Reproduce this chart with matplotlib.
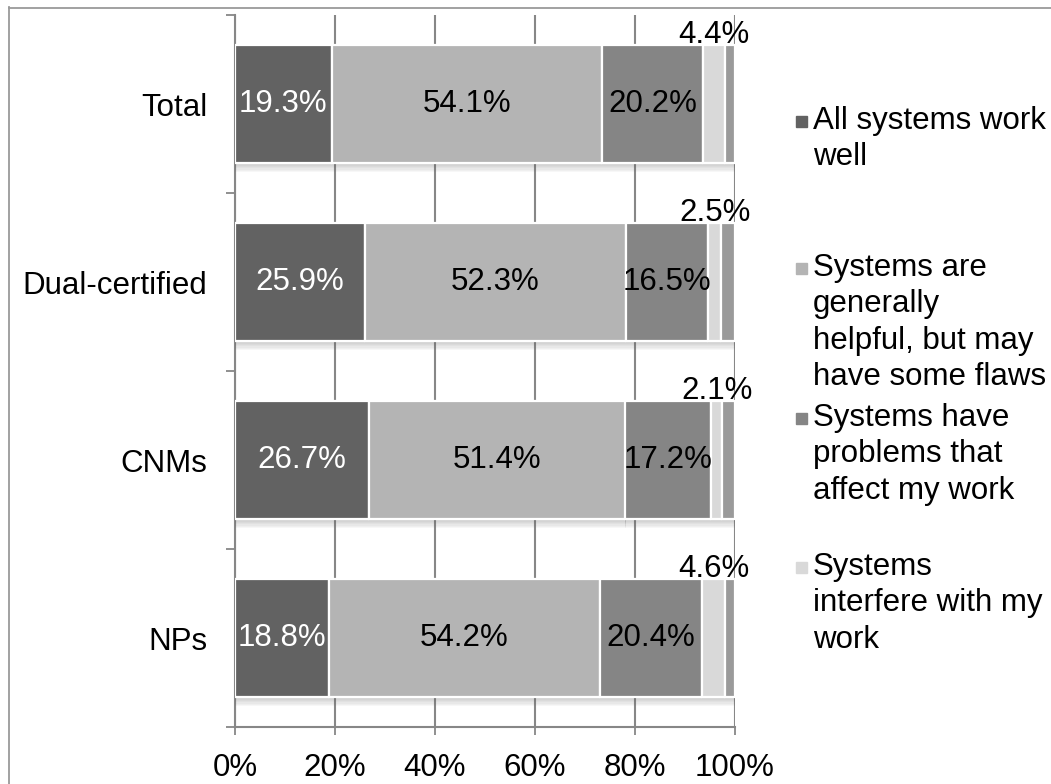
import matplotlib.pyplot as plt
import matplotlib.patheffects as pe
from matplotlib.lines import Line2D
from matplotlib.patches import Rectangle

plt.rcParams['font.family'] = ['Liberation Sans', 'DejaVu Sans']

categories = ["Total", "Dual-certified", "CNMs", "NPs"]
work_well = [19.3, 25.9, 26.7, 18.8]
helpful = [54.1, 52.3, 51.4, 54.2]
problems = [20.2, 16.5, 17.2, 20.4]
interfere = [4.4, 2.5, 2.1, 4.6]
other = [2.0, 2.8, 2.6, 2.0]

series = [work_well, helpful, problems, interfere, other]
colours = ["#626262", "#b4b4b4", "#858585", "#d9d9d9", "#9a9a9a"]
legend_names = ["All systems work\nwell",
                "Systems are\ngenerally\nhelpful, but may\nhave some flaws",
                "Systems have\nproblems that\naffect my work",
                "Systems\ninterfere with my\nwork"]

W, H = 1051, 784
fig = plt.figure(figsize=(W / 100, H / 100), dpi=100)
ax = fig.add_axes([235 / W, (H - 727) / H, 500 / W, 712 / H])

fs = 22.5
ypos = list(range(len(categories)))[::-1]  # Total on top
bar_h = 0.66

# soft drop shadow under each bar
shadow = [pe.SimplePatchShadow(offset=(0, -k), shadow_rgbFace="#666666", alpha=0.05)
          for k in (1, 2, 3, 4, 5, 6, 7)] + [pe.Normal()]

left = [0.0] * len(categories)
for i, vals in enumerate(series):
    bars = ax.barh(ypos, vals, left=left, height=bar_h, color=colours[i],
                   edgecolor="white", linewidth=1.6, zorder=3)
    for b in bars:
        b.set_path_effects(shadow)
    for y, v, l in zip(ypos, vals, left):
        if i < 3:
            ax.text(l + v / 2, y, f"{v}%", ha="center", va="center", fontsize=fs,
                    color="white" if i == 0 else "black", zorder=5)
        elif i == 3:
            ax.annotate(f"{v}%", xy=(l + v / 2, y + bar_h / 2), xytext=(0, 1.5),
                        textcoords="offset points", ha="center", va="baseline",
                        fontsize=fs, color="black", zorder=5)
    left = [l + v for l, v in zip(left, vals)]

ax.set_xlim(0, 100)
ax.set_ylim(-0.5, len(categories) - 0.5)

# gridlines and axes in Excel-like grey
ax.set_xticks(range(0, 101, 20))
ax.set_xticklabels([f"{t}%" for t in range(0, 101, 20)], fontsize=fs)
ax.xaxis.grid(True, color="#878787", linewidth=1.5, zorder=0)
ax.set_axisbelow(True)

ax.set_yticks([y - 0.5 for y in range(len(categories) + 1)])
ax.set_yticklabels([])
ax.set_yticks(ypos, minor=True)
ax.set_yticklabels(categories, minor=True, fontsize=fs)
ax.tick_params(axis="y", which="minor", length=0, pad=20)
ax.tick_params(axis="y", which="major", length=6.5, width=1.3, color="#878787")
ax.tick_params(axis="x", length=6, width=1.3, color="#878787", pad=13)

for side in ("top", "right"):
    ax.spines[side].set_visible(False)
for side in ("left", "bottom"):
    ax.spines[side].set_color("#878787")
    ax.spines[side].set_linewidth(1.5)

# legend drawn by hand, first-line centres in pixels from the top
legend_rows = [121, 268, 418, 567]
for name, c, ytop in zip(legend_names, colours, legend_rows):
    fig.patches.append(Rectangle((796 / W, 1 - (ytop + 6) / H), 11 / W, 11 / H,
                                 transform=fig.transFigure, color=c))
    fig.text(813 / W, 1 - (ytop - 15) / H, name, ha="left", va="top",
             fontsize=fs, linespacing=1.28)

# outer chart frame
fig.add_artist(Line2D([8.5 / W, 8.5 / W], [0, 1 - 7 / H], transform=fig.transFigure,
                      color="#9a9a9a", linewidth=1.3))
fig.add_artist(Line2D([8.5 / W, 1], [1 - 7.5 / H, 1 - 7.5 / H], transform=fig.transFigure,
                      color="#9a9a9a", linewidth=1.3))

fig.savefig("out.png", dpi=100)
